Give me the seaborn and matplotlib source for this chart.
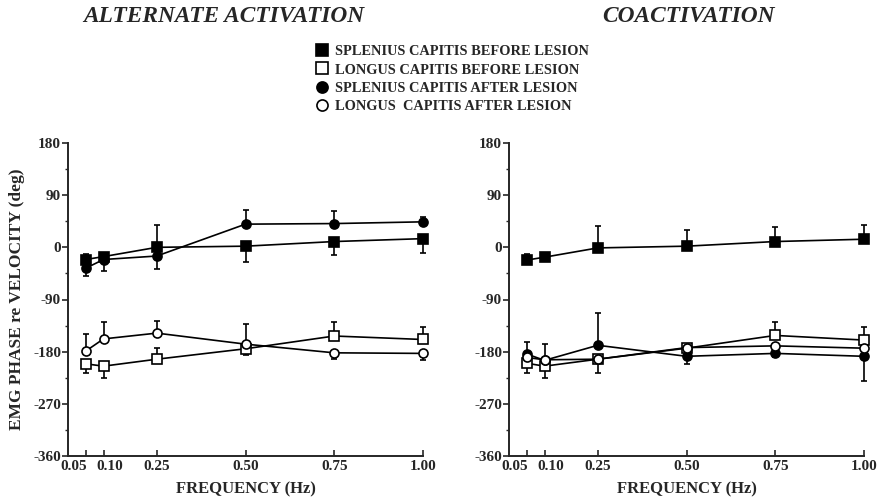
import matplotlib
matplotlib.use("Agg")
import matplotlib.pyplot as plt
import matplotlib.transforms as mtransforms
import seaborn as sns
import pandas as pd
import numpy as np
from matplotlib.ticker import MultipleLocator

# ---------------- data ----------------
freq = [0.05, 0.10, 0.25, 0.50, 0.75, 1.00]
freq_labels = ["0.05", "0.10", "0.25", "0.50", "0.75", "1.00"]
y_ticks = [180, 90, 0, -90, -180, -270, -360]

series_labels = ["SPLENIUS CAPITIS BEFORE LESION", "LONGUS CAPITIS BEFORE LESION",
                 "SPLENIUS CAPITIS AFTER LESION", "LONGUS  CAPITIS AFTER LESION"]

# Alternate activation
alt_sp_before = [-21, -16, 0, 2, 10, 15]
alt_sp_before_err = [10, 6, 38, 27, 24, 24]
alt_sp_before_dir = [1, 1, 1, -1, -1, -1]
alt_lo_before = [-201, -205, -193, -175, -153, -159]
alt_lo_before_err = [15, 20, 20, 10, 25, 22]
alt_lo_before_dir = [-1, -1, 1, -1, 1, 1]
alt_sp_after = [-36, -21, -15, 40, 41, 44]
alt_sp_after_err = [14, 19, 23, 24, 21, 8]
alt_sp_after_dir = [-1, -1, -1, 1, 1, 1]
alt_lo_after = [-179, -158, -148, -167, -182, -183]
alt_lo_after_err = [30, 29, 21, 35, 10, 11]
alt_lo_after_dir = [1, 1, 1, 1, -1, -1]

# Coactivation
co_sp_before = [-22, -17, -1, 2, 10, 14]
co_sp_before_err = [10, 4, 38, 28, 25, 24]
co_sp_before_dir = [1, 1, 1, 1, 1, 1]
co_lo_before = [-200, -205, -193, -174, -152, -160]
co_lo_before_err = [16, 21, 23, 0, 24, 22]
co_lo_before_dir = [-1, -1, -1, -1, 1, 1]
co_sp_after = [-184, -195, -169, -188, -183, -188]
co_sp_after_err = [21, 0, 56, 13, 7, 42]
co_sp_after_dir = [1, -1, 1, -1, -1, -1]
co_lo_after = [-190, -194, -193, -173, -170, -174]
co_lo_after_err = [0, 28, 0, 0, 0, 0]
co_lo_after_dir = [1, 1, 1, 1, 1, 1]

panels = {
    "ALTERNATE ACTIVATION": [
        (alt_sp_before, alt_sp_before_err, alt_sp_before_dir),
        (alt_lo_before, alt_lo_before_err, alt_lo_before_dir),
        (alt_sp_after, alt_sp_after_err, alt_sp_after_dir),
        (alt_lo_after, alt_lo_after_err, alt_lo_after_dir),
    ],
    "COACTIVATION": [
        (co_sp_before, co_sp_before_err, co_sp_before_dir),
        (co_lo_before, co_lo_before_err, co_lo_before_dir),
        (co_sp_after, co_sp_after_err, co_sp_after_dir),
        (co_lo_after, co_lo_after_err, co_lo_after_dir),
    ],
}

# styles: marker, facecolor
styles = [("s", "black"), ("s", "white"), ("o", "black"), ("o", "white")]
# horizontal pixel offsets for crowded tick labels
label_dx = [-12, 6, 0, 0, 0, 0]

# ---------------- figure ----------------
sns.set_theme(style="ticks")
plt.rcParams["font.family"] = ["Liberation Serif", "DejaVu Serif"]
plt.rcParams["font.weight"] = "bold"
plt.rcParams["axes.unicode_minus"] = False

fig = plt.figure(figsize=(8.92, 5.03), dpi=100)
ax_pos = [[68 / 892, 47 / 503, 355 / 892, 313 / 503],
          [509 / 892, 47 / 503, 355 / 892, 313 / 503]]
title_x = [224 / 892, 688 / 892]

handles = []
for i, (title, series) in enumerate(panels.items()):
    ax = fig.add_axes(ax_pos[i])
    for j, (vals, errs, dirs) in enumerate(series):
        marker, fc = styles[j]
        df = pd.DataFrame({"freq": freq, "phase": vals})
        sns.lineplot(data=df, x="freq", y="phase", ax=ax, color="black",
                     linewidth=1.2, marker=marker, markersize=6.5,
                     markerfacecolor=fc, markeredgecolor="black",
                     markeredgewidth=1.2, zorder=3 + j, clip_on=False)
        errs = np.array(errs, dtype=float)
        dirs = np.array(dirs)
        lower = np.where(dirs < 0, errs, 0.0)
        upper = np.where(dirs > 0, errs, 0.0)
        ax.errorbar(freq, vals, yerr=[lower, upper], fmt="none", ecolor="black",
                    elinewidth=1.2, capsize=2.5, capthick=1.2, zorder=2 + j,
                    clip_on=False)
        if i == 0:
            handles.append(plt.Line2D([], [], linestyle="none", marker=marker,
                                      markersize=8, markerfacecolor=fc,
                                      markeredgecolor="black", markeredgewidth=1.2))
    ax.set_xlim(0.0, 1.0)
    ax.set_ylim(-360, 180)
    ax.set_xticks(freq)
    ax.set_xticklabels(freq_labels, fontsize=11, fontweight="bold")
    ax.set_yticks(y_ticks)
    ax.set_yticklabels([str(t) for t in y_ticks], fontsize=11, fontweight="bold")
    ax.yaxis.set_minor_locator(MultipleLocator(45))
    ax.tick_params(axis="x", direction="in", length=4, width=1.2, pad=3)
    ax.tick_params(axis="y", which="major", direction="out", length=4, width=1.2, pad=1)
    ax.tick_params(axis="y", which="minor", direction="out", length=2, width=1.0)
    # shift crowded x tick labels (after tick_params, which resets transforms)
    for tick, dx in zip(ax.xaxis.get_major_ticks(), label_dx):
        lab = tick.label1
        lab.set_transform(lab.get_transform() +
                          mtransforms.ScaledTranslation(dx / 100, 0, fig.dpi_scale_trans))
    for s in ["top", "right"]:
        ax.spines[s].set_visible(False)
    for s in ["left", "bottom"]:
        ax.spines[s].set_linewidth(1.4)
    ax.set_xlabel("FREQUENCY (Hz)", fontsize=12, fontweight="bold", labelpad=6)
    if i == 0:
        ax.set_ylabel("EMG PHASE re VELOCITY (deg)", fontsize=12.5,
                      fontweight="bold", labelpad=6)
    else:
        ax.set_ylabel("")
    fig.text(title_x[i], 1 - 17 / 503, title, fontsize=16.8, fontweight="bold",
             fontstyle="italic", ha="center", va="center")

fig.legend(handles, series_labels, loc="upper left",
           bbox_to_anchor=(306 / 892, 1 - 35 / 503), frameon=False,
           prop={"family": "Liberation Serif", "weight": "bold", "size": 10.4},
           handlelength=0.8, handletextpad=0.5, labelspacing=0.36,
           borderpad=0.2)

fig.savefig("out.png", dpi=100)
